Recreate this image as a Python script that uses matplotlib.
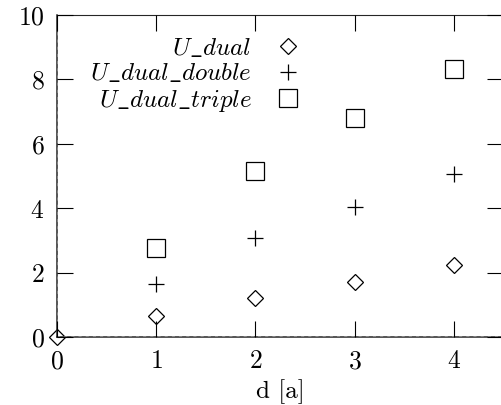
import numpy as np
import matplotlib
matplotlib.use("Agg")
import matplotlib.pyplot as plt

# data
d = [0, 1, 2, 3, 4]
u_dual = [0, 0.66, 1.21, 1.72, 2.24]
d_multi = [1, 2, 3, 4]
u_dual_double = [1.65, 3.07, 4.05, 5.05]
u_dual_triple = [2.76, 5.16, 6.8, 8.31]

x_ticks = [0, 1, 2, 3, 4]
y_ticks = [0, 2, 4, 6, 8, 10]

plt.rcParams['font.family'] = 'serif'
plt.rcParams['font.serif'] = ['cmr10']
plt.rcParams['mathtext.fontset'] = 'cm'
plt.rcParams['axes.formatter.use_mathtext'] = True

fig = plt.figure(figsize=(5.02, 4.05), dpi=100)
ax = fig.add_axes([57 / 502, 68 / 405, 446.5 / 502, 322 / 405])

ax.plot(d, u_dual, linestyle='none', marker='D', markersize=8.6, mfc='none',
        mec='black', mew=0.9, clip_on=False, label=r'$U\_dual$')
ax.plot(d_multi, u_dual_double, linestyle='none', marker='+', markersize=12.2,
        color='black', mew=0.9, clip_on=False, label=r'$U\_dual\_double$')
ax.plot(d_multi, u_dual_triple, linestyle='none', marker='s', markersize=12.5, mfc='none',
        mec='black', mew=0.9, clip_on=False, label=r'$U\_dual\_triple$')

# zero axes drawn dashed over the border
ax.axhline(0, color='0.58', lw=1.1, ls=(0, (2.0, 2.7)), zorder=2.6)
ax.axvline(0, color='0.58', lw=1.1, ls=(0, (2.0, 2.7)), zorder=2.6)
ax.xaxis.set_zorder(3)
ax.yaxis.set_zorder(3)

ax.set_xlim(0, 4.5)
ax.set_ylim(0, 10)
ax.set_xticks(x_ticks)
ax.set_yticks(y_ticks)
ax.tick_params(direction='in', length=11.5, width=0.8, top=True, right=True,
               labelsize=18.5, pad=9)
for s in ax.spines.values():
    s.set_linewidth(0.8)
    s.set_color('0.15')
ax.spines['bottom'].set_linewidth(1.1)
ax.spines['left'].set_linewidth(1.1)

ax.set_xlabel('d [a]', fontsize=18, labelpad=4)

# labels on the left, markers on the right (entries right-aligned)
ax.legend(loc='upper right', bbox_to_anchor=(299 / 502, 1 - 37 / 405),
          bbox_transform=fig.transFigure, frameon=False, markerfirst=False,
          fontsize=18, handlelength=0.9, handletextpad=1.0, labelspacing=0.1,
          borderpad=0, borderaxespad=0)

fig.savefig('out.png', dpi=100)
